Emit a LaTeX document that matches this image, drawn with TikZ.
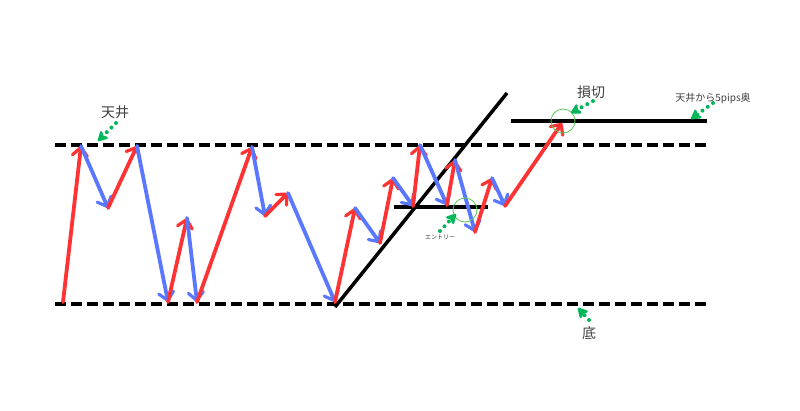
\documentclass[tikz,border=0pt]{standalone}
\usepackage{fontspec}
\newfontfamily\jpfont{Noto Sans CJK JP}
\usetikzlibrary{arrows.meta}

\definecolor{upred}{HTML}{FF3333}
\definecolor{downblue}{HTML}{5A78FF}
\definecolor{markgreen}{HTML}{00B85A}
\definecolor{ringgreen}{HTML}{55CC55}

\tikzset{
	up/.style={upred, line width=3.8pt, line cap=round, -{Straight Barb[length=8pt, width=15pt, line width=3.2pt, round]}},
	down/.style={downblue, line width=3.8pt, line cap=round, -{Straight Barb[length=8pt, width=15pt, line width=3.2pt, round]}},
	level/.style={line width=3.5pt, dash pattern=on 11pt off 5pt},
	trend/.style={line width=3.5pt},
	pointer/.style={markgreen, line width=4pt, line cap=round, dash pattern=on 0pt off 6.5pt, -{Stealth[length=12pt, width=13pt, inset=3pt, round]}},
	ring/.style={circle, draw=ringgreen, line width=0.8pt, minimum size=24pt, inner sep=0pt},
	note/.style={font=\jpfont, text=black!75, inner sep=1pt}
}

\begin{document}
\begin{tikzpicture}[x=1pt, y=-1pt]
	\useasboundingbox (0,0) rectangle (800,410);
	% support and resistance
	\coordinate (topL) at (55,145);
	\coordinate (topR) at (706,145);
	\coordinate (botL) at (55,304);
	\coordinate (botR) at (706,304);
	\draw[level] (topL) -- (topR);
	\draw[level] (botL) -- (botR);
	
	% trend line, neckline, stop line
	\coordinate (tr0) at (335,307);
	\coordinate (tr1) at (507,93);
	\coordinate (nk0) at (394,207);
	\coordinate (nk1) at (488,207);
	\coordinate (sl0) at (511,121);
	\coordinate (sl1) at (707,121);
	\draw[trend] (tr0) -- (tr1);
	\draw[trend] (nk0) -- (nk1);
	\draw[trend] (sl0) -- (sl1);
	
	% price swings
	\coordinate (p0) at (63,302);
	\coordinate (p1) at (81,146);
	\coordinate (p2) at (108,208);
	\coordinate (p3) at (137,146);
	\coordinate (p4) at (168,302);
	\coordinate (p5) at (187,218);
	\coordinate (p6) at (197,302);
	\coordinate (p7) at (252,147);
	\coordinate (p8) at (265,216);
	\coordinate (p9) at (288,193);
	\coordinate (p10) at (335,302);
	\coordinate (p11) at (355,208);
	\coordinate (p12) at (380,243);
	\coordinate (p13) at (393,178);
	\coordinate (p14) at (413,206);
	\coordinate (p15) at (420,145);
	\coordinate (p16) at (447,205);
	\coordinate (p17) at (455,160);
	\coordinate (p18) at (475,232);
	\coordinate (p19) at (492,178);
	\coordinate (p20) at (505,206);
	\coordinate (p21) at (562,123);
	
	\draw[up] (p0) -- (p1);
	\draw[down] (p1) -- (p2);
	\draw[up] (p2) -- (p3);
	\draw[down] (p3) -- (p4);
	\draw[up] (p4) -- (p5);
	\draw[down] (p5) -- (p6);
	\draw[up] (p6) -- (p7);
	\draw[down] (p7) -- (p8);
	\draw[up] (p8) -- (p9);
	\draw[down] (p9) -- (p10);
	\draw[up] (p10) -- (p11);
	\draw[down] (p11) -- (p12);
	\draw[up] (p12) -- (p13);
	\draw[down] (p13) -- (p14);
	\draw[up] (p14) -- (p15);
	\draw[down] (p15) -- (p16);
	\draw[up] (p16) -- (p17);
	\draw[down] (p17) -- (p18);
	\draw[up] (p18) -- (p19);
	\draw[down] (p19) -- (p20);
	\draw[up] (p20) -- (p21);
	
	% entry and stop marks
	\node[ring] (entry) at (465,210) {};
	\node[ring] (stop) at (563,121) {};
	
	% labels
	\node[note, font=\jpfont\fontsize{14}{14}\selectfont] (ceil) at (115,112) {天井};
	\node[note, font=\jpfont\fontsize{14}{14}\selectfont] (floor) at (589,333) {底};
	\node[note, font=\jpfont\fontsize{14}{14}\selectfont] (cut) at (591,92) {損切};
	\node[note, font=\jpfont\fontsize{10}{10}\selectfont] (beyond) at (713,98) {天井から5pips奥};
	\node[note, font=\jpfont\fontsize{6}{6}\selectfont] (entrytxt) at (440,237) {エントリー};
	
	\coordinate (ceilA) at (116,123);
	\coordinate (ceilB) at (98,141);
	\coordinate (cutA) at (593,101);
	\coordinate (cutB) at (571,113);
	\coordinate (beyondA) at (713,103);
	\coordinate (beyondB) at (691,119);
	\coordinate (floorA) at (589,320);
	\coordinate (floorB) at (578,308);
	\coordinate (entryA) at (440,231);
	\coordinate (entryB) at (456,214);
	\draw[pointer] (ceilA) -- (ceilB);
	\draw[pointer] (cutA) -- (cutB);
	\draw[pointer] (beyondA) -- (beyondB);
	\draw[pointer] (floorA) -- (floorB);
	\draw[pointer] (entryA) -- (entryB);
\end{tikzpicture}
\end{document}
